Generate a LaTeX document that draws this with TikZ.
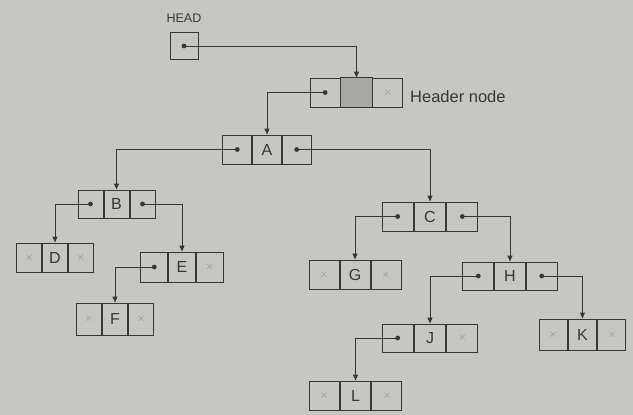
\documentclass[tikz,border=0pt]{standalone}
\usepackage{fontspec}
\setmainfont{Liberation Sans}
\usetikzlibrary{arrows.meta}
\definecolor{bg}{RGB}{198,198,195}
\definecolor{ink}{RGB}{55,55,55}
\definecolor{hdgray}{RGB}{168,168,165}
\tikzset{
  cell/.style={draw=ink,line width=1pt,inner sep=0pt,fill=bg,text=ink,font=\fontsize{16}{16}\selectfont},
  conn/.style={draw=ink,line width=1pt,-{Triangle[length=6pt,width=5pt]}},
  lbl/.style={text=ink,inner sep=0pt}
}
\newcommand\lnode[8]{%
  \node[cell,minimum width=#4,minimum height=#5] (#1m) at (#2,#3) {#6};
  \node[cell,minimum width=#4,minimum height=#5,anchor=east] (#1l) at (#1m.west) {#7};
  \node[cell,minimum width=#4,minimum height=#5,anchor=west] (#1r) at (#1m.east) {#8};}
\newcommand\nx{\fontsize{11}{11}\selectfont\color{ink!60}$\times$}
\begin{document}
\begin{tikzpicture}[x=1pt,y=-1pt]
\fill[bg] (0,0) rectangle (633,415);
\useasboundingbox (0,0) rectangle (633,415);
% HEAD
\node[lbl,font=\fontsize{12.5}{12.5}\selectfont] (headlbl) at (184,18) {HEAD};
\node[cell,minimum width=28,minimum height=27] (head) at (184,46) {};
% list nodes
\lnode{hd}{356.5}{92.5}{30.3}{29}{}{}{\nx}
\fill[hdgray,draw=ink,line width=1pt] (hdm.south west) rectangle (hdm.north east);
\node[lbl,anchor=west,font=\fontsize{16.5}{16.5}\selectfont] (hdlbl) at (410,97) {Header node};
\lnode{a}{267}{149.5}{28.7}{29}{A}{}{}
\lnode{b}{116.5}{204}{25}{28}{B}{}{}
\lnode{d}{55}{257.5}{24.7}{29}{D}{\nx}{\nx}
\lnode{e}{182}{267}{26.7}{30}{E}{}{\nx}
\lnode{f}{115}{319}{25.3}{32}{F}{\nx}{\nx}
\lnode{c}{430}{216.5}{31.3}{29}{C}{}{}
\lnode{g}{355}{274.5}{30}{29}{G}{\nx}{\nx}
\lnode{h}{510}{276}{30.7}{28}{H}{}{}
\lnode{j}{430}{338}{31.3}{28}{J}{}{\nx}
\lnode{k}{582.5}{334.5}{28.3}{31}{K}{\nx}{\nx}
\lnode{l}{355.5}{395.5}{30.3}{29}{L}{\nx}{\nx}
% connectors
\foreach \s/\t in {head/hdm,hdl/am,al/bm,ar/cm,bl/dm,br/em,el/fm,cl/gm,cr/hm,hl/jm,hr/km,jl/lm}{
  \draw[conn] (\s.center) -| (\t.north);
  \fill[ink] (\s.center) circle (2.4);
}
\end{tikzpicture}
\end{document}
